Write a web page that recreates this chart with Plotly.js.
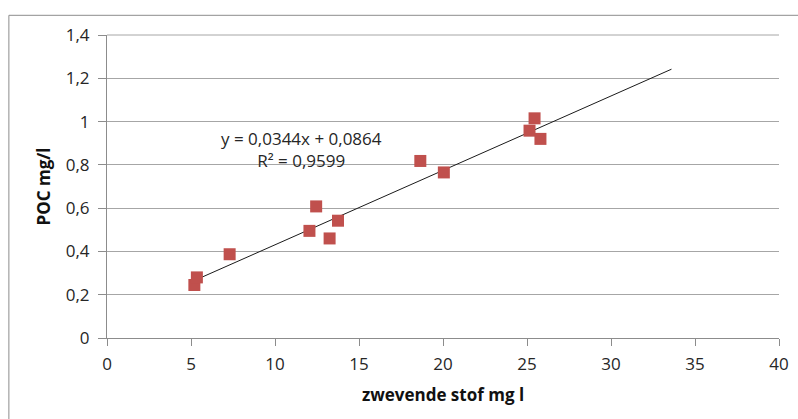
<!DOCTYPE html>
<html>
<head>
<meta charset="utf-8">
<script src="https://cdn.plot.ly/plotly-3.0.1.min.js"></script>
<style>html,body{margin:0;padding:0;background:#fff;}#chart{width:798px;height:419px;}</style>
</head>
<body>
<div id="chart"></div>
<script>
// Data
const zwevendeStof = [5.2, 5.35, 7.3, 12.05, 12.45, 13.25, 13.75, 18.65, 20.05, 25.15, 25.45, 25.8];
const poc = [0.245, 0.28, 0.387, 0.495, 0.608, 0.46, 0.542, 0.818, 0.765, 0.958, 1.015, 0.92];
// Linear trend line endpoints (y = 0,0344x + 0,0864)
const trendX = [5.3, 33.6];
const trendY = [0.269, 1.242];
const xTicks = [0, 5, 10, 15, 20, 25, 30, 35, 40];
const yTicks = [0, 0.2, 0.4, 0.6, 0.8, 1, 1.2, 1.4];
const equationText = 'y = 0,0344x + 0,0864<br>R² = 0,9599';

const font = '"Open Sans", Lato, "DejaVu Sans", sans-serif';
const gray = '#8c8c8c';
const gridGray = '#a6a6a6';
const textColor = '#262626';

const traces = [
  {
    x: trendX, y: trendY, type: 'scatter', mode: 'lines',
    line: {color: '#1a1a1a', width: 1}, hoverinfo: 'skip', showlegend: false
  },
  {
    x: zwevendeStof, y: poc, type: 'scatter', mode: 'markers',
    marker: {symbol: 'square', size: 12, color: '#C0504D', line: {color: '#C0504D', width: 0}},
    showlegend: false
  }
];

const layout = {
  width: 798, height: 419,
  margin: {l: 107, r: 19, t: 35, b: 81},
  paper_bgcolor: '#ffffff', plot_bgcolor: '#ffffff',
  separators: ',.',
  font: {family: font, size: 17, color: textColor},
  showlegend: false,
  xaxis: {
    range: [0, 40], tickmode: 'array', tickvals: xTicks,
    showgrid: false, zeroline: false,
    showline: true, linecolor: gray, linewidth: 1,
    ticks: 'outside', ticklen: 7, tickcolor: gray, tickwidth: 1,
    ticklabelstandoff: 4,
    tickfont: {family: font, size: 17, color: textColor},
    title: {text: 'zwevende stof mg l', font: {family: font, size: 17, color: '#111', weight: 'bold'}, standoff: 14},
    fixedrange: true
  },
  yaxis: {
    range: [0, 1.4], tickmode: 'array', tickvals: yTicks,
    showgrid: true, gridcolor: gridGray, gridwidth: 1, zeroline: false,
    showline: true, linecolor: gray, linewidth: 1,
    ticks: 'outside', ticklen: 8, tickcolor: gray, tickwidth: 1,
    ticklabelstandoff: 5,
    tickfont: {family: font, size: 17, color: textColor},
    title: {text: 'POC mg/l', font: {family: font, size: 17, color: '#111', weight: 'bold'}, standoff: 10},
    fixedrange: true
  },
  annotations: [{
    xref: 'x', yref: 'y', x: 11.6, y: 0.872, text: equationText,
    showarrow: false, align: 'center', xanchor: 'center', yanchor: 'middle',
    font: {family: font, size: 17, color: textColor}
  }],
  shapes: [
    // top gridline at the upper edge of the value range
    {type: 'line', xref: 'paper', yref: 'paper', x0: 0, x1: 1, y0: 1, y1: 1, line: {color: gridGray, width: 1}},
    // chart frame (top and left edges)
    {type: 'line', xref: 'paper', yref: 'paper', x0: -0.146, x1: 1.03, y0: 1.065, y1: 1.065, line: {color: gray, width: 1}},
    {type: 'line', xref: 'paper', yref: 'paper', x0: -0.146, x1: -0.146, y0: 1.065, y1: -0.3, line: {color: gray, width: 1}}
  ]
};

Plotly.newPlot('chart', traces, layout, {staticPlot: true, displayModeBar: false});
</script>
</body>
</html>
